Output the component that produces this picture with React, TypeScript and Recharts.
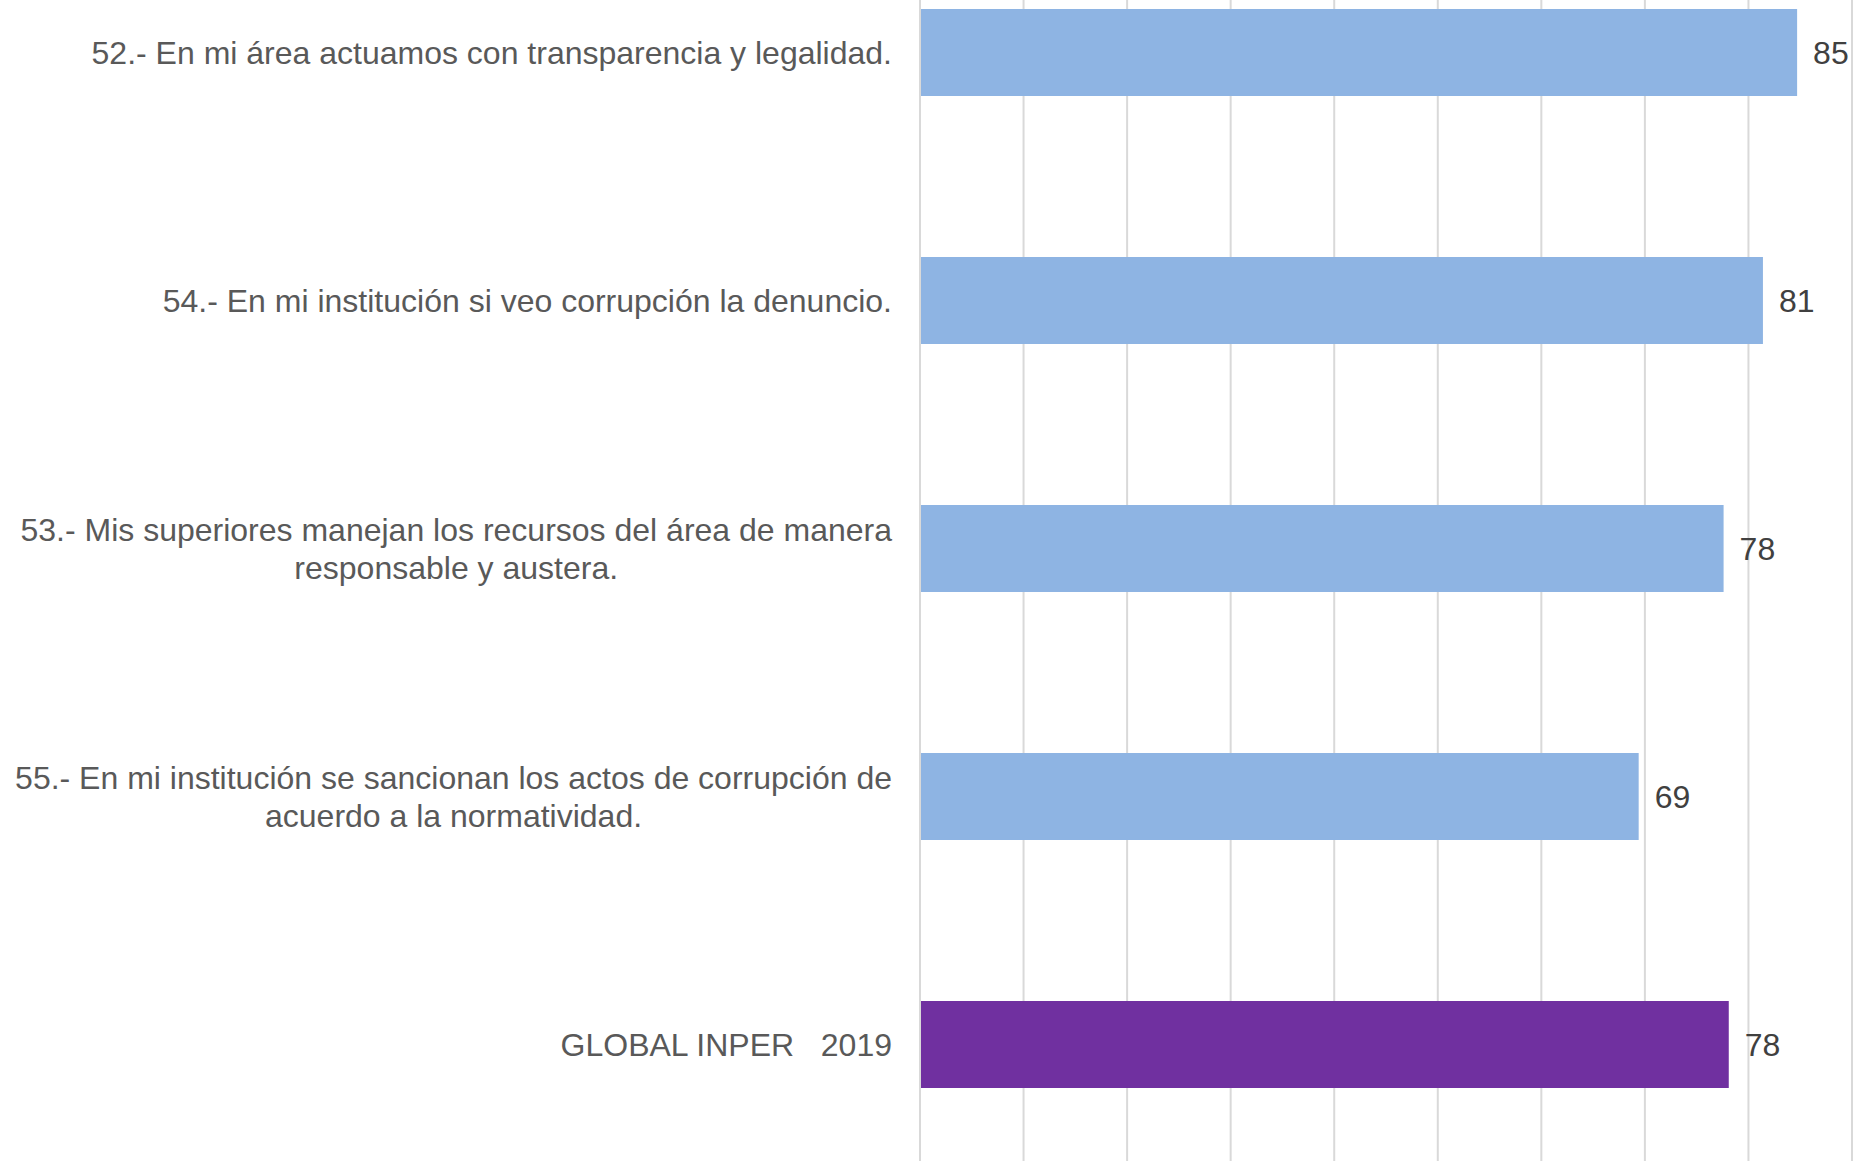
import React from "react";
import {
  BarChart,
  Bar,
  XAxis,
  YAxis,
  CartesianGrid,
  Cell,
  LabelList,
} from "recharts";

const categories = [
  "52.- En mi área actuamos con transparencia y legalidad.",
  "54.- En mi institución si veo corrupción la denuncio.",
  "53.- Mis superiores manejan los recursos del área de manera responsable y austera.",
  "55.- En mi institución se sancionan los actos de corrupción de acuerdo a la normatividad.",
  "GLOBAL INPER   2019",
];
const values = [84.7, 81.4, 77.6, 69.4, 78.1];
const barColors = ["#8EB4E3", "#8EB4E3", "#8EB4E3", "#8EB4E3", "#7030A0"];
const xTicks = [0, 10, 20, 30, 40, 50, 60, 70, 80, 90];

const data = categories.map((name, i) => ({ name, value: values[i] }));

const FONT = "32px 'Liberation Sans', Arial, sans-serif";
const MAX_LINE = 900;

let ctx: CanvasRenderingContext2D | null = null;
const measure = (s: string) => {
  if (!ctx) ctx = document.createElement("canvas").getContext("2d");
  if (!ctx) return s.length * 16;
  ctx.font = FONT;
  return ctx.measureText(s).width;
};

// greedy word wrap, like the spreadsheet does
const wrap = (text: string) => {
  if (measure(text) <= MAX_LINE) return [text];
  const words = text.split(" ");
  const lines: string[] = [];
  let cur = "";
  words.forEach((w) => {
    const next = cur ? cur + " " + w : w;
    if (cur && measure(next) > MAX_LINE) {
      lines.push(cur);
      cur = w;
    } else cur = next;
  });
  if (cur) lines.push(cur);
  return lines;
};

const CategoryTick = (props: any) => {
  const { x, y, payload } = props;
  const lines = wrap(payload.value);
  const right = x - 20;
  const widest = Math.max(...lines.map(measure));
  const lineH = 38;
  const top = y - ((lines.length - 1) * lineH) / 2;
  return (
    <g>
      {lines.map((l, i) => (
        <text
          key={i}
          x={lines.length > 1 ? right - widest / 2 : right}
          y={top + i * lineH}
          dy="0.36em"
          textAnchor={lines.length > 1 ? "middle" : "end"}
          fill="#595959"
          style={{ font: FONT, whiteSpace: "pre" }}
        >
          {l}
        </text>
      ))}
    </g>
  );
};

export default function App() {
  return (
    <div
      style={{
        position: "absolute",
        left: 0,
        top: 0,
        width: 1870,
        height: 1161,
        overflow: "hidden",
        background: "#fff",
      }}
    >
      <div style={{ position: "absolute", left: 0, top: -80 }}>
        <BarChart
          width={1870}
          height={1260}
          data={data}
          layout="vertical"
          margin={{ top: 8, right: 18, bottom: 12, left: 0 }}
          barSize={87}
        >
          <CartesianGrid
            horizontal={false}
            stroke="#d9d9d9"
            strokeWidth={2}
          />
          <XAxis
            type="number"
            domain={[0, 90]}
            ticks={xTicks}
            hide
          />
          <YAxis
            type="category"
            dataKey="name"
            width={920}
            axisLine={{ stroke: "#d9d9d9", strokeWidth: 2 }}
            tickLine={false}
            tick={<CategoryTick />}
            interval={0}
          />
          <Bar dataKey="value" isAnimationActive={false}>
            {data.map((d, i) => (
              <Cell key={d.name} fill={barColors[i]} />
            ))}
            <LabelList
              dataKey="value"
              position="right"
              offset={16}
              formatter={(v: any) => Math.round(Number(v))}
              fill="#404040"
              style={{ font: FONT }}
            />
          </Bar>
        </BarChart>
      </div>
    </div>
  );
}
